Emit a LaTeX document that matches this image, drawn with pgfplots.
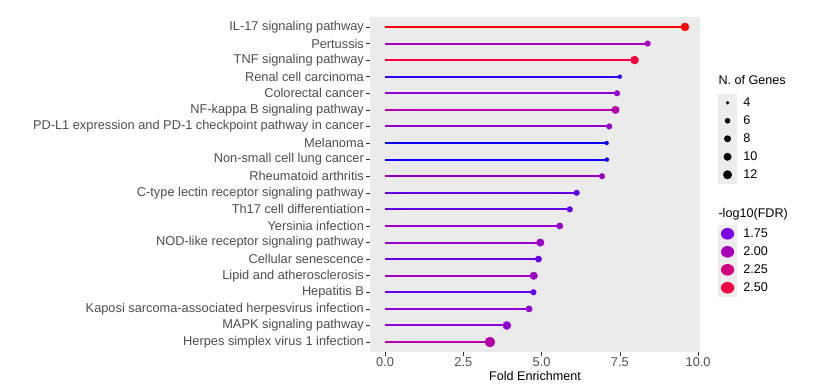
\documentclass[border=0pt]{standalone}
\usepackage{pgfplots}
\pgfplotsset{compat=1.18}
\usepackage{fontspec}
\setmainfont{Liberation Sans}
\definecolor{ticktxt}{HTML}{4D4D4D}
\definecolor{tickcol}{HTML}{333333}
\definecolor{panelbg}{HTML}{EBEBEB}
\definecolor{keybg}{HTML}{EDEDED}
\pgfplotstableread{
pos x0 fe fdr genes
20 0 9.58 2.60 10
19 0 8.39 1.98 6
18 0 7.97 2.50 10
17 0 7.50 1.63 4
16 0 7.41 1.88 6
15 0 7.36 2.07 9
14 0 7.16 1.88 6
13 0 7.08 1.57 4
12 0 7.09 1.57 4
11 0 6.93 1.88 6
10 0 6.12 1.71 6
9 0 5.90 1.71 6
8 0 5.58 1.89 7
7 0 4.96 1.93 9
6 0 4.90 1.72 7
5 0 4.75 1.96 9
4 0 4.74 1.71 6
3 0 4.60 1.86 7
2 0 3.89 1.86 10
1 0 3.35 2.08 14
}\datatable
\begin{document}
\begin{tikzpicture}
\useasboundingbox (0,0) rectangle (821bp,389bp);
\begin{axis}[
  at={(370bp,37bp)}, anchor=south west,
  scale only axis, width=330bp, height=335bp,
  xmin=-0.48, xmax=10.06, ymin=0.4, ymax=20.6,
  axis lines*=left, axis line style={draw=none},
  axis background/.style={fill=panelbg},
  tick align=outside, major tick length=3.7bp,
  tick style={draw=tickcol, line width=0.55bp},
  xtick={0,2.5,5,7.5,10}, xticklabels={0.0,2.5,5.0,7.5,10.0},
  ytick={1,...,20},
  yticklabels={Herpes simplex virus 1 infection, MAPK signaling pathway, Kaposi sarcoma-associated herpesvirus infection, Hepatitis B, Lipid and atherosclerosis, Cellular senescence, NOD-like receptor signaling pathway, Yersinia infection, Th17 cell differentiation, C-type lectin receptor signaling pathway, Rheumatoid arthritis, Non-small cell lung cancer, Melanoma, PD-L1 expression and PD-1 checkpoint pathway in cancer, NF-kappa B signaling pathway, Colorectal cancer, Renal cell carcinoma, TNF signaling pathway, Pertussis, IL-17 signaling pathway},
  ticklabel style={font=\fontsize{12.8bp}{14bp}\selectfont, text=ticktxt},
  yticklabel style={inner sep=0pt, xshift=-2.2bp},
  xticklabel style={inner sep=0pt, yshift=-2bp},
  xlabel={Fold Enrichment},
  xlabel style={font=\fontsize{12.6bp}{14bp}\selectfont, text=black, at={(axis description cs:0.5,-0.072)}, anchor=center},
  colormap={fdr}{rgb255(0cm)=(0,0,255); rgb255(19cm)=(122,0,232); rgb255(43cm)=(168,0,186); rgb255(67cm)=(208,0,126); rgb255(90cm)=(245,0,64); rgb255(100cm)=(255,0,0)},
  point meta min=1.55, point meta max=2.6,
  legend style={at={(rel axis cs:1.055,0.849)}, anchor=north west, draw=none, fill=none,
    inner sep=0pt, row sep=0pt, column sep=0pt,
    font=\fontsize{12.6bp}{14bp}\selectfont, text=black,
    nodes={inner sep=0pt, anchor=west}},
  legend cell align=left,
]
% lollipop sticks: from (0,pos) to (fe,pos), coloured by -log10(FDR)
\addplot[forget plot, no marks, point meta=\thisrow{fdr},
  quiver={u=\thisrow{fe}, v=0,
    every arrow/.append style={draw=mapped color, line width=2bp, -}}]
  table[x=x0, y=pos] {\datatable};
% dots
\addplot[scatter, only marks, mark=*, forget plot,
  scatter src=explicit,
  scatter/use mapped color={draw=mapped color, fill=mapped color},
  mark options={line width=0.3bp},
  visualization depends on={sqrt(4+2.1*(\thisrow{genes}-4)) \as \perpointmarksize},
  scatter/@pre marker code/.append style={/tikz/mark size=\perpointmarksize},
] table[x=fe, y=pos, meta=fdr] {\datatable};
% legend
\addlegendimage{legend image code/.code={\path[draw=none,fill=none] (0bp,-13bp) rectangle (18.4bp,13bp); \node[overlay, anchor=west, inner sep=0pt, font=\fontsize{12.6bp}{14bp}\selectfont] at (0bp,0bp) {N. of Genes};}}
\addlegendentry{}
\addlegendimage{legend image code/.code={\fill[keybg, draw=none] (0bp,-9bp) rectangle (18.4bp,9bp); \fill[black, draw=none] (9.2bp,0bp) circle (1.8bp);}}
\addlegendentry{\hspace{6.5bp}4}
\addlegendimage{legend image code/.code={\fill[keybg, draw=none] (0bp,-9bp) rectangle (18.4bp,9bp); \fill[black, draw=none] (9.2bp,0bp) circle (2.8bp);}}
\addlegendentry{\hspace{6.5bp}6}
\addlegendimage{legend image code/.code={\fill[keybg, draw=none] (0bp,-9bp) rectangle (18.4bp,9bp); \fill[black, draw=none] (9.2bp,0bp) circle (3.5bp);}}
\addlegendentry{\hspace{6.5bp}8}
\addlegendimage{legend image code/.code={\fill[keybg, draw=none] (0bp,-9bp) rectangle (18.4bp,9bp); \fill[black, draw=none] (9.2bp,0bp) circle (4.0bp);}}
\addlegendentry{\hspace{6.5bp}10}
\addlegendimage{legend image code/.code={\fill[keybg, draw=none] (0bp,-9bp) rectangle (18.4bp,9bp); \fill[black, draw=none] (9.2bp,0bp) circle (4.5bp);}}
\addlegendentry{\hspace{6.5bp}12}
\addlegendimage{legend image code/.code={\path[draw=none,fill=none] (0bp,-9.5bp) rectangle (18.4bp,9.5bp);}}
\addlegendentry{}
\addlegendimage{legend image code/.code={\path[draw=none,fill=none] (0bp,-11bp) rectangle (18.4bp,11bp); \node[overlay, anchor=west, inner sep=0pt, font=\fontsize{12.6bp}{14bp}\selectfont] at (0bp,0bp) {-log10(FDR)};}}
\addlegendentry{}
\addlegendimage{legend image code/.code={\fill[keybg, draw=none] (0bp,-9bp) rectangle (18.4bp,9bp); \fill[draw=none, fill={rgb,255:red,122;green,0;blue,232}] (9.2bp,0bp) ellipse (6.6bp and 5.8bp);}}
\addlegendentry{\hspace{6.5bp}1.75}
\addlegendimage{legend image code/.code={\fill[keybg, draw=none] (0bp,-9bp) rectangle (18.4bp,9bp); \fill[draw=none, fill={rgb,255:red,168;green,0;blue,186}] (9.2bp,0bp) ellipse (6.6bp and 5.8bp);}}
\addlegendentry{\hspace{6.5bp}2.00}
\addlegendimage{legend image code/.code={\fill[keybg, draw=none] (0bp,-9bp) rectangle (18.4bp,9bp); \fill[draw=none, fill={rgb,255:red,208;green,0;blue,126}] (9.2bp,0bp) ellipse (6.6bp and 5.8bp);}}
\addlegendentry{\hspace{6.5bp}2.25}
\addlegendimage{legend image code/.code={\fill[keybg, draw=none] (0bp,-9bp) rectangle (18.4bp,9bp); \fill[draw=none, fill={rgb,255:red,245;green,0;blue,64}] (9.2bp,0bp) ellipse (6.6bp and 5.8bp);}}
\addlegendentry{\hspace{6.5bp}2.50}
\end{axis}
\end{tikzpicture}
\end{document}
